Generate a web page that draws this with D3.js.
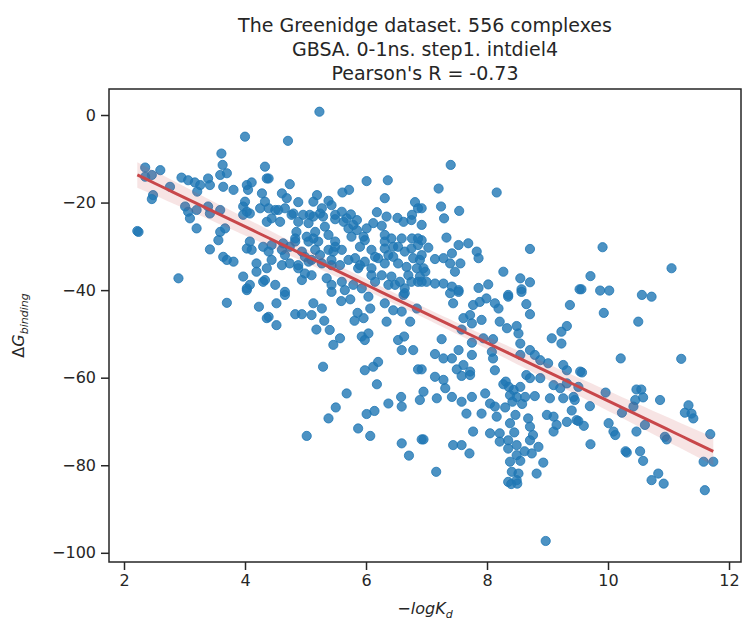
<!DOCTYPE html>
<html>
<head>
<meta charset="utf-8">
<script src="https://cdn.jsdelivr.net/npm/d3@7"></script>
<style>
  body { margin: 0; background: #fff; }
  text { font-family: "DejaVu Sans", sans-serif; fill: #262626; }
</style>
</head>
<body>
<div id="chart"></div>
<script>
// chart text
const titleLines = [
  'The Greenidge dataset. 556 complexes',
  'GBSA. 0-1ns. step1. intdiel4',
  "Pearson's R = -0.73",
];
const xTicks = [2, 4, 6, 8, 10, 12];
const yTicks = [0, -20, -40, -60, -80, -100];

// [-logKd, dG binding]
const complexes = [
  [4.0,-4.95],[3.61,-8.8],[3.63,-11.4],[3.70,-13.3],[3.59,-13.7],[2.35,-12],[2.46,-13.7],[2.60,-12.6],
  [2.35,-14.1],[2.48,-18.3],[2.46,-19.2],[2.76,-16.4],[2.24,-26.7],[2.22,-26.5],[2.95,-14.3],[3.06,-14.9],
  [3.17,-15.4],[3.26,-16],[3.21,-17.5],[3.39,-14.5],[3.42,-16],[3.64,-16.4],[3.81,-17.1],[4.03,-16],
  [4.11,-15.4],[4.05,-17.1],[4.33,-11.8],[4.36,-14.5],[4.28,-17.9],[4.33,-19.8],[3.01,-20.9],[3.06,-22.1],
  [3.20,-21.7],[3.39,-20.9],[3.42,-22.5],[3.09,-23.6],[3.59,-21.7],[3.97,-20.9],[4.03,-22.1],[3.97,-22.8],
  [4.08,-22.5],[3.20,-25.9],[3.59,-26.7],[3.67,-25.9],[3.56,-28.6],[3.42,-30.7],[3.64,-32.4],[3.81,-33.5],
  [3.70,-33.1],[2.90,-37.3],[4.08,-28.9],[4.03,-30.5],[4.19,-33.9],[4.19,-35.8],[3.97,-36.9],[4.08,-38.8],
  [4.03,-39.6],[4.30,-30.1],[4.30,-38.1],[4.36,-24.4],
  [5.23,0.75],[4.71,-5.9],[4.39,-14.5],[4.74,-15.8],[6.01,-15.1],[6.36,-14.9],[6.31,-19],[5.61,-17.7],
  [5.72,-17.1],[5.19,-18.3],[5.13,-19.8],[4.61,-17.9],[4.69,-19],[4.88,-19.9],[5.38,-19.6],[6.81,-19.9],
  [6.86,-21.3],[6.76,-22.8],[6.18,-22.2],[6.34,-23.2],[6.52,-23.5],[6.62,-24.4],[6.12,-24.7],[6.26,-25.3],
  [5.60,-22.1],[5.75,-22.7],[5.49,-23.8],[5.63,-24.4],[5.24,-22.5],[5.07,-22.8],[4.77,-22.8],[4.55,-21.7],
  [4.39,-21.3],[4.44,-23.6],[4.58,-24.4],[4.88,-24.4],[5.05,-24.7],[4.85,-26.7],[5.16,-26.7],[5.32,-25.5],
  [5.38,-27.4],[5.71,-25.9],[5.85,-26.3],[5.76,-27.8],[5.98,-28.6],[5.90,-30.1],[5.49,-28.9],[5.60,-30.8],
  [5.46,-31.2],[5.21,-28.9],[5.05,-28.9],[4.83,-28.9],[4.63,-29.3],[4.44,-29.7],[4.39,-31.2],[4.66,-32],
  [4.94,-31.2],[5.16,-30.8],[5.05,-33.5],[5.27,-33.9],[5.43,-34.3],[4.88,-35],[5.10,-36.6],[4.94,-37.7],
  [5.35,-37.3],[5.43,-38.8],[5.60,-38.1],[5.82,-32.7],[5.98,-33.5],[5.87,-35],[6.09,-35],[6.20,-32.7],
  [6.37,-32],[6.45,-30.1],[6.31,-28.9],[6.59,-28.2],[6.76,-28.2],[6.86,-29.7],[6.64,-31.2],[6.78,-32.7],
  [6.53,-33.9],[6.26,-36.6],[6.15,-38.1],[6.70,-36.6],[6.86,-38.1],[6.64,-39.6],[6.48,-38.8],[4.50,-38.8],
  [4.66,-40.4],[4.33,-37.7],[4.36,-35],
  [4.0,-19.8],[4.25,-21.3],[4.50,-21.7],[4.66,-21.3],[4.80,-22.5],[4.96,-22.8],[5.13,-23.2],[5.27,-21.3],
  [5.29,-23.2],[5.43,-20.6],[5.49,-22.8],[5.68,-23.6],[5.79,-25.1],[5.96,-27.8],[6.01,-25.9],[5.85,-24],
  [5.13,-28.2],[5.02,-27.8],[4.83,-28.2],[4.74,-30.1],[4.61,-30.8],[4.99,-32.4],[5.10,-33.1],[5.24,-32],
  [5.38,-30.8],[5.49,-30.1],[5.43,-33.1],[5.57,-34.3],[5.71,-33.1],[5.90,-34.3],[4.11,-30.8],[4.44,-33.1],
  [4.61,-34.3],[4.74,-33.9],[4.88,-34.3],[4.99,-36.2],[5.65,-40],[5.79,-38.8],[5.93,-39.6],
  [6.75,-24],[6.31,-27.4],[6.42,-28.2],[6.86,-28.2],[6.75,-30.5],[6.53,-30.1],[6.31,-30.5],[6.09,-30.8],
  [6.15,-32.4],[6.31,-33.9],[6.45,-32.4],[6.89,-33.1],[6.67,-34.7],[6.84,-35],[6.98,-35.8],[6.09,-36.6],
  [6.42,-36.9],[6.37,-38.8],[6.56,-38.1],[6.75,-38.1],[6.92,-38.1],[6.62,-41.1],
  [7.40,-11.4],[7.20,-16.8],[8.16,-17.7],[7.24,-20.9],[7.29,-23.6],[7.54,-21.9],[6.92,-21.3],[6.92,-25.1],
  [7.33,-28],[6.92,-28.6],[7.03,-30.3],[7.53,-29.7],[7.69,-29.3],[7.83,-31.2],[7.86,-32.7],[7.14,-32.9],
  [7.28,-32.7],[7.42,-31.6],[7.39,-33.9],[7.56,-33.9],[7.47,-35.8],[6.92,-32],[6.95,-35],[6.89,-36.9],
  [7.00,-38.1],[7.14,-38.5],[7.28,-38.5],[7.42,-39.2],[7.53,-40],[7.86,-39.5],[8.02,-38.7],[8.27,-35.8],
  [8.71,-30.6],[8.55,-37.3],[8.71,-38.2],[8.57,-39.8],[8.35,-41.1],[9.53,-39.8],
  [9.91,-30.2],[11.05,-35],[9.71,-36.8],[9.56,-39.8],[9.87,-40.1],[10.02,-40.1],[10.56,-41.1],[10.72,-41.5],
  [9.93,-45.2],[10.50,-47.2],[10.21,-55.6],[11.21,-55.7],[9.57,-58.8],[9.51,-62.1],[9.45,-65.1],[9.96,-63.4],
  [9.70,-66.5],[9.51,-69.9],[10.01,-70.4],[10.09,-72.3],[10.12,-73.1],[10.23,-68],[10.42,-66.6],[10.47,-62.7],
  [10.55,-62.7],[10.58,-64.5],[10.45,-65.1],[10.86,-65.1],[10.61,-70.8],[10.47,-72.3],[10.94,-73.5],[10.97,-74.1],
  [9.71,-75.2],[10.31,-77.1],[10.29,-76.8],[10.53,-76.8],[10.58,-79],[10.72,-83.4],[10.83,-81.9],[10.92,-84.2],
  [11.33,-66.3],[11.27,-68],[11.38,-68.2],[11.41,-69.3],[11.69,-72.9],[11.58,-79.2],[11.74,-79.2],[11.60,-85.7],
  [7.39,-40.7],[7.53,-40.4],[7.44,-43],[7.77,-43.4],[7.88,-42.7],[7.99,-41.9],[8.13,-43],[8.19,-44.2],
  [8.35,-41.5],[8.57,-40.4],[8.65,-43.2],[8.71,-45.5],[9.37,-43.4],[7.61,-46.4],[7.72,-45.7],[7.91,-46.8],
  [7.58,-49],[7.75,-47.6],[8.21,-47.2],[8.33,-48.7],[8.49,-48.2],[8.52,-49.9],[8.55,-52.2],[9.07,-51],
  [9.23,-49.5],[9.32,-48.2],[9.23,-52.2],[7.25,-51.2],[7.75,-52],[7.94,-51],[8.10,-51.2],[8.08,-54.1],
  [8.10,-55.6],[7.14,-54.6],[7.28,-55.6],[7.42,-55.6],[7.53,-53.7],[7.75,-54.8],[7.50,-58.1],[7.61,-57.1],
  [7.72,-58.6],[7.58,-59.6],[7.72,-59.4],[8.13,-58.3],[6.92,-58.1],[7.14,-59.8],[7.28,-60.5],[7.31,-62.4],
  [8.55,-54.8],[8.71,-53.7],[8.79,-54.8],[8.88,-56],[9.01,-56.7],[9.26,-57.1],[9.32,-58.3],[9.54,-58.6],
  [8.65,-59.4],[8.71,-60.1],[8.31,-60.9],[8.36,-62.1],[8.44,-62.8],[8.55,-62.1],[8.38,-64],[8.49,-64.4],
  [8.63,-64.4],[8.79,-64.2],[8.88,-60.1],[9.10,-61.7],[9.21,-62.4],[9.32,-61.3],[9.04,-64.7],[9.26,-64.7],
  [9.43,-64.4],[6.95,-63.2],[7.17,-64.7],[7.42,-64.4],[7.58,-65.5],[7.75,-64.4],[7.66,-68.2],[7.91,-68.2],
  [7.97,-63.6],[8.05,-65.9],[8.13,-66.6],[8.16,-68.9],[8.38,-70.4],[8.68,-69.3],[8.71,-71.2],[8.76,-73.1],
  [8.99,-68.5],[9.10,-68.9],[9.15,-70.8],[9.10,-72.3],[9.32,-70.1],[9.48,-69.7],[7.77,-72.3],[8.05,-72.7],
  [8.21,-72.7],[8.21,-74.6],[8.35,-74.3],[8.49,-75.4],[8.35,-76.2],[8.71,-74.3],[8.85,-75.8],[8.74,-77.3],
  [8.49,-77.7],[8.38,-79.2],[8.93,-79.4],[8.41,-81.5],[8.52,-81.9],[8.49,-83.4],[8.35,-83.8],[8.82,-81.9],
  [6.95,-74.1],[7.44,-75.4],[7.58,-75.4],[7.71,-77.3],[7.16,-81.5],[8.97,-97.3],
  [8.27,-61.5],[8.42,-65.5],[8.30,-66.8],[8.58,-66],[8.47,-68.5],[8.45,-72.5],[8.55,-79],[8.62,-76.8],
  [9.40,-67.5],[9.60,-71],[8.40,-84.3],[8.50,-84.2],
  [4.52,-43],[4.66,-41.1],[4.39,-46.1],[4.52,-48],[4.83,-45.5],[4.94,-45.5],[5.13,-43],[5.27,-44.2],
  [5.10,-45.7],[5.31,-47],[5.18,-49],[5.40,-49.1],[5.57,-51],[5.46,-52.5],[5.43,-40.4],[5.59,-42.5],
  [5.74,-42.1],[6.04,-41.5],[5.86,-45.2],[6.07,-44.2],[5.81,-47],[5.96,-46.4],[5.93,-50.6],[6.04,-49.9],
  [5.98,-51.4],[6.31,-43],[6.45,-44.6],[6.59,-44.9],[6.34,-47.2],[6.73,-47.2],[6.64,-40.7],[6.84,-44.2],
  [6.53,-51.4],[6.63,-50.6],[6.59,-53.7],[6.78,-53.7],[5.29,-57.5],[5.98,-58.3],[6.12,-57.5],[6.20,-56.4],
  [6.18,-61.5],[6.86,-58.1],[5.68,-63.6],[5.50,-66.8],[5.38,-69.3],[5.87,-71.6],[6.01,-68.3],[6.14,-67.6],
  [6.07,-73.3],[6.37,-65.9],[6.58,-64.4],[6.59,-66.6],[6.89,-65.1],[6.59,-75],[6.71,-77.8],[6.92,-74.1],
  [5.02,-73.3],[3.70,-42.9],[4.03,-40],[4.23,-43.8],[4.36,-46.4],
];

const width = 742;
const height = 622;
const margin = { top: 89, right: 1, bottom: 60, left: 109 };
const innerW = width - margin.left - margin.right;
const innerH = height - margin.top - margin.bottom;

const svg = d3.select('#chart').append('svg')
  .attr('width', width)
  .attr('height', height);

const group = svg.append('g')
  .attr('transform', `translate(${margin.left},${margin.top})`);

const xScale = d3.scaleLinear().domain([1.752, 12.198]).range([0, innerW]);
const yScale = d3.scaleLinear().domain([5.94, -102.1]).range([0, innerH]);

// least squares fit + 95% band of the mean
const xs = complexes.map((d) => d[0]);
const ys = complexes.map((d) => d[1]);
const n = xs.length;
const xMean = d3.mean(xs);
const yMean = d3.mean(ys);
const sxx = d3.sum(xs, (x) => (x - xMean) ** 2);
const sxy = d3.sum(complexes, (d) => (d[0] - xMean) * (d[1] - yMean));
const slope = sxy / sxx;
const intercept = yMean - slope * xMean;
const resid = Math.sqrt(d3.sum(complexes, (d) => (d[1] - intercept - slope * d[0]) ** 2) / (n - 2));

const [xMin, xMax] = d3.extent(xs);
const grid = d3.range(0, 101).map((i) => xMin + (xMax - xMin) * i / 100);
const fit = grid.map((x) => {
  const y = intercept + slope * x;
  const se = resid * Math.sqrt(1 / n + (x - xMean) ** 2 / sxx);
  return { x, y, lo: y - 1.96 * se, hi: y + 1.96 * se };
});

// points
group.append('g')
  .selectAll('circle')
  .data(complexes)
  .join('circle')
  .attr('cx', (d) => xScale(d[0]))
  .attr('cy', (d) => yScale(d[1]))
  .attr('r', 4.6)
  .attr('fill', '#1f77b4')
  .attr('fill-opacity', 0.8)
  .attr('stroke', '#1f77b4')
  .attr('stroke-opacity', 0.8)
  .attr('stroke-width', 1);

// confidence band and regression line
group.append('path')
  .datum(fit)
  .attr('d', d3.area().x((d) => xScale(d.x)).y0((d) => yScale(d.lo)).y1((d) => yScale(d.hi)))
  .attr('fill', '#c8474a')
  .attr('fill-opacity', 0.15);

group.append('path')
  .datum(fit)
  .attr('d', d3.line().x((d) => xScale(d.x)).y((d) => yScale(d.y)))
  .attr('fill', 'none')
  .attr('stroke', '#c8474a')
  .attr('stroke-width', 3);

// axes
const xAxis = d3.axisBottom(xScale).tickValues(xTicks).tickSize(8).tickPadding(5).tickFormat(d3.format('d'));
const yAxis = d3.axisLeft(yScale).tickValues(yTicks).tickSize(8).tickPadding(5)
  .tickFormat((d) => (d < 0 ? '\u2212' + Math.abs(d) : d));

const xAxisGroup = group.append('g').attr('transform', `translate(0,${innerH})`).call(xAxis);
const yAxisGroup = group.append('g').call(yAxis);

[xAxisGroup, yAxisGroup].forEach((g) => {
  g.select('.domain').remove();
  g.selectAll('line').attr('stroke', '#262626').attr('stroke-width', 1.5);
  g.selectAll('text').attr('font-size', 16).attr('fill', '#262626')
    .style('font-family', '"DejaVu Sans", sans-serif');
});

// frame
group.append('rect')
  .attr('width', innerW)
  .attr('height', innerH)
  .attr('fill', 'none')
  .attr('stroke', '#262626')
  .attr('stroke-width', 1.5);

// titles
svg.append('g')
  .selectAll('text')
  .data(titleLines)
  .join('text')
  .attr('x', margin.left + innerW / 2)
  .attr('y', (d, i) => 32 + i * 24)
  .attr('text-anchor', 'middle')
  .attr('font-size', 19)
  .text((d) => d);

const xLabel = svg.append('text')
  .attr('x', margin.left + innerW / 2)
  .attr('y', 614)
  .attr('text-anchor', 'middle')
  .attr('font-size', 16)
  .attr('font-style', 'italic');
xLabel.append('tspan').text('\u2212logK');
xLabel.append('tspan').attr('font-size', 11).attr('dy', 4).text('d');

const yLabel = svg.append('text')
  .attr('transform', `translate(24,${margin.top + innerH / 2}) rotate(-90)`)
  .attr('text-anchor', 'middle')
  .attr('font-size', 16);
yLabel.append('tspan').text('\u0394');
yLabel.append('tspan').attr('font-style', 'italic').text('G');
yLabel.append('tspan').attr('font-style', 'italic').attr('font-size', 11).attr('dy', 4).text('binding');
</script>
</body>
</html>
